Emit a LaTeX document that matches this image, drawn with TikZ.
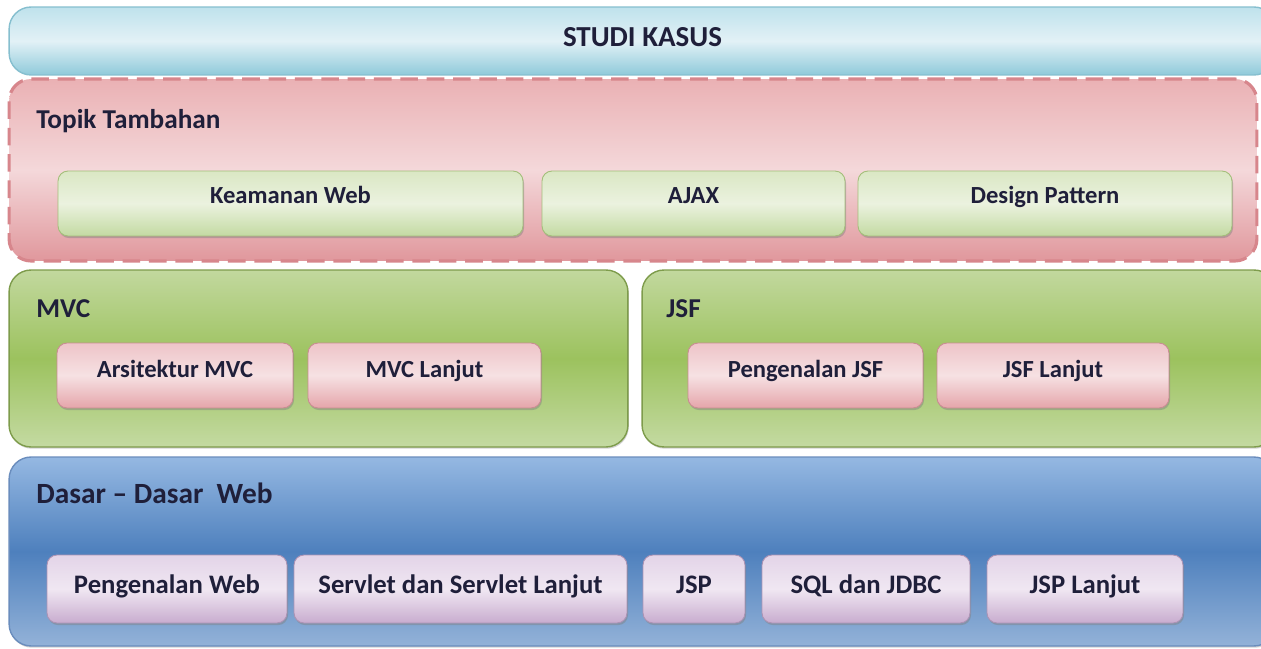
\documentclass[tikz,border=0pt]{standalone}
\usepackage{fontspec}
\setmainfont{Carlito}
\usetikzlibrary{shadows}

\definecolor{ink}{HTML}{1F1F3A}
\definecolor{studitop}{HTML}{BFE2EC}
\definecolor{studimid}{HTML}{E2F1F6}
\definecolor{studibot}{HTML}{8FCADA}
\definecolor{studiedge}{HTML}{86BFCF}
\definecolor{pinktop}{HTML}{EAB1B4}
\definecolor{pinkmid}{HTML}{F4D8DA}
\definecolor{pinkbot}{HTML}{E0979C}
\definecolor{pinkedge}{HTML}{D7868C}
\definecolor{grntop}{HTML}{C2D89E}
\definecolor{grnmid}{HTML}{9CC25E}
\definecolor{grnbot}{HTML}{C4DAA2}
\definecolor{grnedge}{HTML}{7E9C4C}
\definecolor{ltgtop}{HTML}{DAE7C4}
\definecolor{ltgmid}{HTML}{EBF2DF}
\definecolor{ltgbot}{HTML}{C3DAA2}
\definecolor{ltgedge}{HTML}{A3BE7A}
\definecolor{rosetop}{HTML}{EEC4C8}
\definecolor{rosemid}{HTML}{F6E1E3}
\definecolor{rosebot}{HTML}{E5A5AA}
\definecolor{roseedge}{HTML}{C98C92}
\definecolor{bluetop}{HTML}{95B8E2}
\definecolor{bluemid}{HTML}{4E80BD}
\definecolor{bluebot}{HTML}{93B2D8}
\definecolor{blueedge}{HTML}{6A8DBD}
\definecolor{lilactop}{HTML}{E3D4E8}
\definecolor{lilacmid}{HTML}{F0E7F2}
\definecolor{lilacbot}{HTML}{C8ACCF}
\definecolor{lilacedge}{HTML}{AC93B4}

\begin{document}
\begin{tikzpicture}[x=0.02cm, y=-0.02cm,
        outer/.style={rounded corners=0.44cm, line width=0.8pt, inner sep=0pt},
        layer/.style={outer,
            drop shadow={shadow xshift=0.5pt, shadow yshift=-1pt, opacity=0.35}},
        ttl/.style={anchor=base west, inner sep=0pt, text=ink,
            font=\bfseries\fontsize{15.5}{18}\selectfont},
        inbox/.style={rounded corners=0.2cm, line width=0.5pt, inner sep=0pt,
            minimum height=1.3cm, text height=0.31cm, text=ink,
            font=\bfseries\fontsize{14}{16}\selectfont,
            drop shadow={shadow xshift=0.6pt, shadow yshift=-1.2pt, opacity=0.45}},
        greenbox/.style={inbox, draw=ltgedge, top color=ltgtop, bottom color=ltgbot,
            middle color=ltgmid, text depth=0.32cm},
        rosebox/.style={inbox, draw=roseedge, top color=rosetop, bottom color=rosebot,
            middle color=rosemid, text depth=0.24cm},
        lilacbox/.style={inbox, draw=lilacedge, top color=lilactop, bottom color=lilacbot,
            middle color=lilacmid, text height=0.34cm, text depth=0.18cm,
            minimum height=1.36cm, font=\bfseries\fontsize{15.2}{18}\selectfont}]
        \useasboundingbox (0,0) rectangle (1261,649);
        \fill[white] (0,0) rectangle (1261,649);
        \clip (0,0) rectangle (1261,649);
        %% studi kasus
        \node[outer, draw=studiedge, top color=studitop, bottom color=studibot,
            middle color=studimid, minimum width=25.34cm, minimum height=1.36cm,
            text height=0.37cm, text depth=0.14cm, text=ink,
            font=\bfseries\fontsize{16.5}{19}\selectfont] (studi) at (642.5,41) {STUDI KASUS};
        %% topik tambahan
        \node[outer, draw=pinkedge, line width=1.8pt, dash pattern=on 10pt off 5pt,
            top color=pinktop, bottom color=pinkbot, middle color=pinkmid,
            minimum width=24.96cm, minimum height=3.64cm] (topik) at (633,170) {};
        \node[ttl] (topiklbl) at (36,128) {Topik Tambahan};
        \foreach \nm/\x/\w/\txt in {keamanan/290.5/9.3/Keamanan Web,
                ajax/693.5/6.06/AJAX, design/1045/7.48/Design Pattern}
            \node[greenbox, minimum width=\w cm] (\nm) at (\x,203.5) {\txt};
        %% mvc and jsf
        \node[layer, draw=grnedge, top color=grntop, bottom color=grnbot,
            middle color=grnmid, minimum width=12.38cm, minimum height=3.54cm] (mvc) at (318.5,358.5) {};
        \node[ttl] (mvclbl) at (36,317) {MVC};
        \node[layer, draw=grnedge, top color=grntop, bottom color=grnbot,
            middle color=grnmid, minimum width=12.68cm, minimum height=3.54cm] (jsf) at (959,358.5) {};
        \node[ttl] (jsflbl) at (666,317) {JSF};
        \foreach \nm/\x/\w/\txt in {arsitektur/175/4.72/Arsitektur MVC,
                mvclanjut/424.5/4.66/MVC Lanjut, pengjsf/805.5/4.7/Pengenalan JSF,
                jsflanjut/1053/4.64/JSF Lanjut}
            \node[rosebox, minimum width=\w cm] (\nm) at (\x,375.5) {\txt};
        %% dasar - dasar web
        \node[layer, draw=blueedge, top color=bluetop, bottom color=bluebot,
            middle color=bluemid, minimum width=25.34cm, minimum height=3.78cm] (dasar) at (642.5,551.5) {};
        \node[ttl, font=\bfseries\fontsize{16.7}{19}\selectfont] (dasarlbl) at (36,503)
            {Dasar -- Dasar\hspace{0.45em}Web};
        \foreach \nm/\x/\w/\txt in {pengweb/167/4.8/Pengenalan Web,
                servlet/460.5/6.66/Servlet dan Servlet Lanjut, jsp/694/2.04/JSP,
                sql/866/4.16/SQL dan JDBC, jsplanjut/1085/3.92/JSP Lanjut}
            \node[lilacbox, minimum width=\w cm] (\nm) at (\x,589) {\txt};
\end{tikzpicture}
\end{document}
